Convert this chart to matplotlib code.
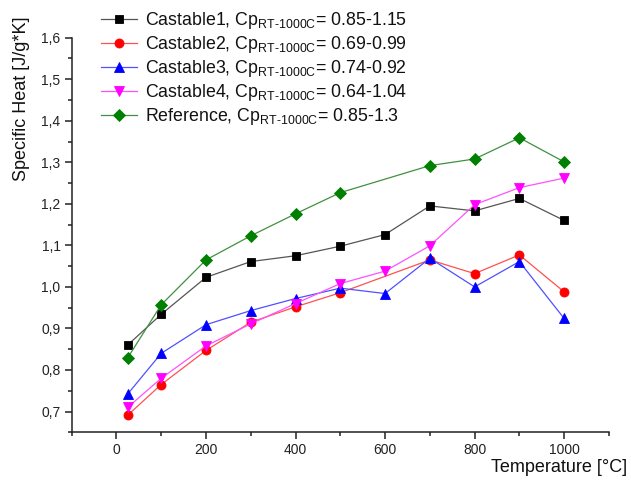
import matplotlib
matplotlib.use("Agg")
import matplotlib.pyplot as plt
from matplotlib.ticker import MultipleLocator, FuncFormatter

plt.rcParams['font.family'] = ['Liberation Sans', 'DejaVu Sans']
plt.rcParams['mathtext.fontset'] = 'custom'
plt.rcParams['mathtext.rm'] = 'Liberation Sans'
plt.rcParams['mathtext.it'] = 'Liberation Sans:italic'

# Data
temps = [25, 100, 200, 300, 400, 500, 600, 700, 800, 900, 1000]
temps_no600 = [25, 100, 200, 300, 400, 500, 700, 800, 900, 1000]
castable1 = [0.860, 0.934, 1.023, 1.061, 1.075, 1.098, 1.126, 1.195, 1.183, 1.213, 1.160]
castable2 = [0.691, 0.765, 0.847, 0.915, 0.952, 0.986, 1.065, 1.032, 1.077, 0.988]
castable3 = [0.742, 0.840, 0.909, 0.943, 0.972, 0.997, 0.984, 1.069, 1.000, 1.061, 0.924]
castable4 = [0.710, 0.780, 0.858, 0.911, 0.960, 1.008, 1.038, 1.099, 1.198, 1.239, 1.262]
reference = [0.829, 0.957, 1.065, 1.123, 1.176, 1.227, 1.292, 1.308, 1.359, 1.301]

names = ["Castable1", "Castable2", "Castable3", "Castable4", "Reference"]
ranges = ["0.85-1.15", "0.69-0.99", "0.74-0.92", "0.64-1.04", "0.85-1.3"]

fig = plt.figure(figsize=(6.31, 4.80), dpi=100)
ax = fig.add_axes([0.1136, 0.0994, 0.8514, 0.8221])

sub = r"$_{\mathrm{RT\text{-}1000C}}$"
labels = [f"{n}, Cp{sub}= {r}" for n, r in zip(names, ranges)]

series = [
    (temps, castable1, '#000000', 's', 6.0, '#555555'),
    (temps_no600, castable2, '#FF0000', 'o', 6.5, '#FF5050'),
    (temps, castable3, '#0000FF', '^', 7.0, '#5050FF'),
    (temps, castable4, '#FF00FF', 'v', 7.0, '#FF50FF'),
    (temps_no600, reference, '#008000', 'D', 6.0, '#409040'),
]
for (xs, ys, c, m, ms, lc), lab in zip(series, labels):
    ax.plot(xs, ys, color=lc, lw=0.9, marker=m, markersize=ms,
            markerfacecolor=c, markeredgecolor=c, markeredgewidth=0.6, label=lab)

ax.set_xlim(-100, 1100)
ax.set_ylim(0.65, 1.6)
ax.xaxis.set_major_locator(MultipleLocator(200))
ax.xaxis.set_minor_locator(MultipleLocator(100))
ax.yaxis.set_major_locator(MultipleLocator(0.1))
ax.yaxis.set_minor_locator(MultipleLocator(0.05))
ax.yaxis.set_major_formatter(FuncFormatter(lambda v, p: f"{v:.1f}".replace('.', ',') if v >= 0.69 else ""))
ax.xaxis.set_major_formatter(FuncFormatter(lambda v, p: f"{int(round(v))}" if 0 <= v <= 1000 else ""))

for s in ['top', 'right']:
    ax.spines[s].set_visible(False)
for s in ['left', 'bottom']:
    ax.spines[s].set_linewidth(1.1)
    ax.spines[s].set_color('#222222')
ax.tick_params(axis='both', which='major', direction='out', length=5, width=1.1,
               labelsize=10, colors='#222222', pad=3)
ax.tick_params(axis='both', which='minor', direction='out', length=3, width=1.1, colors='#222222')
ax.tick_params(labelcolor='#222222')

fig.text(0.994, 0.016, "Temperature [°C]", ha='right', va='baseline', fontsize=13, color='#111111')
fig.text(0.034, 0.966, "Specific Heat [J/g*K]", ha='center', va='top', rotation=90,
         fontsize=13, color='#111111')

leg = ax.legend(loc='upper left', bbox_to_anchor=(0.150, 0.992), bbox_transform=fig.transFigure,
                frameon=False, fontsize=12.75, handlelength=2.05, handletextpad=0.45,
                labelspacing=0.17, borderpad=0.35, borderaxespad=0)
for t in leg.get_texts():
    t.set_color('#111111')

fig.savefig("out.png", dpi=100)
